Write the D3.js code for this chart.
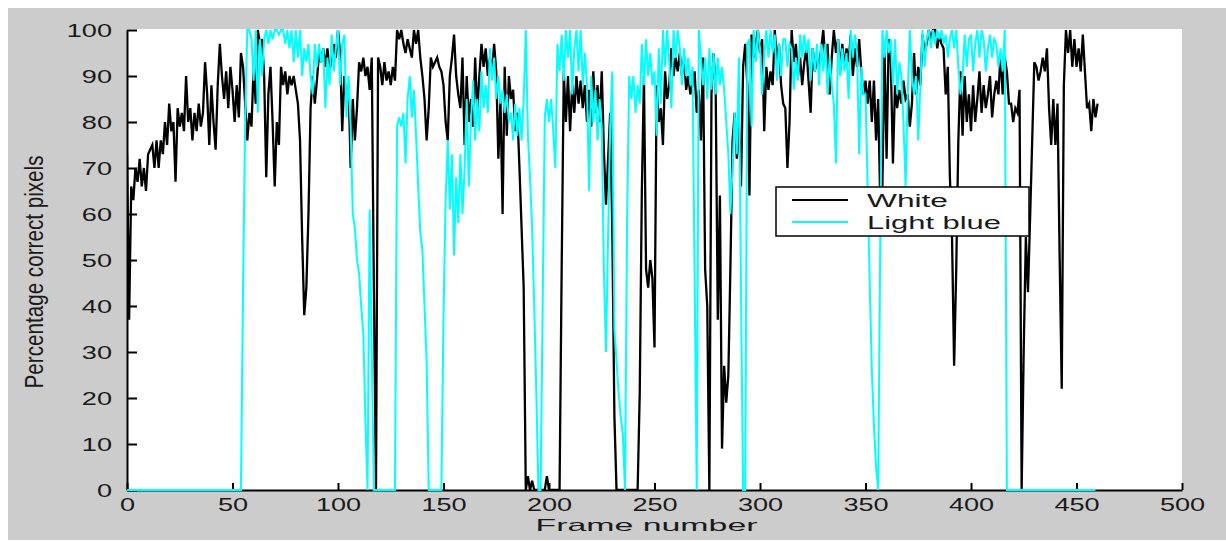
<!DOCTYPE html>
<html>
<head>
<meta charset="utf-8">
<script src="https://cdn.jsdelivr.net/npm/d3@7"></script>
<style>
  html, body { margin: 0; padding: 0; background: #ffffff; }
  svg { display: block; }
  text { font-family: "Liberation Sans", Arial, Helvetica, sans-serif; fill: #1a1a1a; }
</style>
</head>
<body>
<svg id="chart" width="1226" height="541"></svg>
<script>
// Percentage of correctly classified pixels per frame, one value per frame number.
const seriesNames = ["White", "Light blue"];
const seriesColors = ["#000000", "#00ffff"];
const seriesWidths = [2.3, 2];
const xTicks = [0, 50, 100, 150, 200, 250, 300, 350, 400, 450, 500];
const yTicks = [0, 10, 20, 30, 40, 50, 60, 70, 80, 90, 100];
const xLabel = "Frame number";
const yLabel = "Percentage correct pixels";

const whitePct = [
  73,37,66,63,70,67,72,66,70,65,
  73,74,75,70,76,70,76,73,80,75,
  84,78,80,67,83,79,82,78,90,80,
  83,76,82,78,84,79,82,93,86,75,
  88,80,74,88,97,90,85,91,83,92,
  87,80,88,81,95,92,84,76,82,79,
  92,84,100,97,98,90,68,86,92,80,
  66,80,75,92,88,91,86,90,88,90,
  87,84,76,55,38,44,60,83,90,84,
  89,95,93,96,92,96,91,94,97,94,
  100,95,78,90,85,88,70,85,76,83,
  93,91,94,90,92,87,94,44,0,94,
  92,88,93,89,91,88,92,89,100,98,
  100,97,95,98,96,94,100,97,100,94,
  90,85,76,83,94,92,93,94,92,91,
  88,80,76,90,94,99,90,86,83,94,
  75,90,80,85,79,94,82,90,97,92,
  96,90,94,91,97,91,72,85,60,92,
  77,90,85,87,78,82,70,57,44,0,
  3,0,2,0,0,0,0,0,0,3,
  0,0,0,0,0,0,48,91,80,90,
  78,88,82,90,84,89,83,88,80,87,
  79,91,82,88,80,91,74,62,72,82,
  56,16,0,0,0,0,0,0,0,0,
  0,0,0,21,65,90,48,44,50,46,
  31,88,80,83,75,91,85,88,96,90,
  94,91,95,90,94,87,90,86,88,91,
  82,87,76,94,48,40,0,86,95,87,
  37,64,9,27,19,25,49,76,82,72,
  80,66,92,97,88,64,99,94,97,100,
  95,98,78,92,87,91,88,100,93,97,
  88,84,83,70,80,100,93,97,90,94,
  88,93,96,89,82,96,91,94,92,96,
  100,93,97,86,94,100,95,98,91,97,
  92,96,93,99,90,96,92,98,91,86,
  89,84,89,80,89,76,85,62,66,96,
  72,98,93,71,88,83,87,84,89,85,
  86,79,84,95,86,92,88,99,95,97,
  100,98,100,100,96,99,97,96,86,92,
  68,55,27,48,76,91,77,90,80,86,
  78,88,80,85,91,82,88,83,86,90,
  81,86,89,86,95,86,94,91,84,84,
  80,83,82,87,0,31,55,43,59,76,
  93,92,89,91,94,91,96,83,75,85,
  75,84,51,22,88,100,95,100,92,98,
  92,96,91,99,91,83,84,78,85,81,
  84
];

const lightBluePct = [
  0,0,0,0,0,0,0,0,0,0,
  0,0,0,0,0,0,0,0,0,0,
  0,0,0,0,0,0,0,0,0,0,
  0,0,0,0,0,0,0,0,0,0,
  0,0,0,0,0,0,0,0,0,0,
  0,0,0,0,0,44,80,100,100,98,
  89,100,82,98,90,98,100,97,100,98,
  100,100,99,100,100,97,100,96,100,93,
  100,94,100,90,96,93,97,90,86,97,
  92,97,93,96,83,94,88,99,91,96,
  100,88,97,99,81,90,79,60,57,50,
  47,40,34,15,0,61,30,0,0,0,
  0,0,0,0,0,0,0,0,79,81,
  79,82,71,85,90,81,87,77,66,56,
  52,40,28,0,0,0,0,0,0,0,
  38,63,76,61,73,51,68,58,73,60,
  70,85,66,80,89,76,85,78,91,83,
  88,82,96,89,94,85,90,84,87,82,
  86,80,82,76,84,77,83,76,85,100,
  77,68,57,40,21,0,0,40,81,85,
  80,85,78,70,97,91,99,89,100,94,
  100,86,96,100,91,100,88,95,88,65,
  90,80,87,76,85,79,48,30,55,79,
  91,35,28,21,16,12,0,58,90,85,
  90,82,88,84,97,88,98,90,95,88,
  91,77,96,84,100,92,100,93,83,100,
  94,100,96,88,96,90,94,88,92,47,
  0,100,94,88,94,85,96,87,95,86,
  94,88,92,87,80,73,60,70,82,73,
  94,43,0,0,97,98,79,100,93,100,
  96,86,94,100,94,100,95,99,89,97,
  90,98,98,92,97,96,87,94,89,99,
  94,99,95,98,89,96,91,97,88,97,
  91,97,86,94,88,84,71,98,90,96,
  91,95,85,100,94,99,95,73,92,86,
  86,66,45,26,14,5,0,54,100,94,
  100,95,98,88,98,86,93,90,80,66,
  86,100,90,86,90,76,88,100,92,98,
  100,96,100,97,100,98,100,97,99,94,
  98,100,96,100,92,86,90,99,92,98,
  99,91,97,100,94,100,98,91,96,99,
  94,98,97,92,96,91,100,0,0,0,
  0,0,0,0,0,0,0,0,0,0,
  0,0,0,0,0,0,0,0,0,0,
  0,0,0,0,0,0,0,0,0,0,
  0,0,0,0,0,0,0,0,0,0
];

const series = [whitePct, lightBluePct];

// ---- layout ----
const svg = d3.select("#chart");
const plot = { left: 127, right: 1182, top: 30, bottom: 490 };
const textStretch = 1.55;   // wide, low-resolution lettering

const x = d3.scaleLinear().domain([0, 500]).range([plot.left, plot.right]);
const y = d3.scaleLinear().domain([0, 100]).range([plot.bottom, plot.top]);

// figure background and axes area
svg.append("rect").attr("x", 8).attr("y", 8).attr("width", 1218).attr("height", 532).attr("fill", "#cccccc");
svg.append("rect")
  .attr("x", plot.left).attr("y", plot.top - 1)
  .attr("width", plot.right - plot.left).attr("height", plot.bottom - plot.top + 1)
  .attr("fill", "#ffffff");

svg.append("clipPath").attr("id", "plotClip")
  .append("rect")
  .attr("x", plot.left).attr("y", plot.top - 1)
  .attr("width", plot.right - plot.left + 1).attr("height", plot.bottom - plot.top + 2);

// ---- axes ----
const xAxis = d3.axisBottom(x).tickValues(xTicks).tickSizeInner(-7).tickSizeOuter(0).tickPadding(0);
const yAxis = d3.axisLeft(y).tickValues(yTicks).tickSizeInner(-10).tickSizeOuter(0).tickPadding(0);

const gx = svg.append("g").attr("transform", `translate(0,${plot.bottom})`).call(xAxis);
const gy = svg.append("g").attr("transform", `translate(${plot.left},0)`).call(yAxis);

[gx, gy].forEach(g => {
  g.select(".domain").attr("stroke", "#000").attr("stroke-width", 2);
  g.selectAll(".tick line").attr("stroke", "#000").attr("stroke-width", 2);
  g.selectAll(".tick text")
    .attr("font-family", "Liberation Sans, Arial, sans-serif")
    .attr("font-size", 17.5)
    .attr("fill", "#1a1a1a");
});

gx.selectAll(".tick text")
  .attr("y", null).attr("dy", null)
  .attr("text-anchor", "middle")
  .attr("transform", `translate(0,21) scale(${textStretch},1)`);

gy.selectAll(".tick text")
  .attr("x", null).attr("dy", null)
  .attr("text-anchor", "end")
  .attr("transform", `translate(-15,6.5) scale(${textStretch},1)`);

// ---- series lines ----
const line = d3.line()
  .x((d, i) => x(i))
  .y(d => y(d));

const lines = svg.append("g").attr("clip-path", "url(#plotClip)");
series.forEach((values, k) => {
  lines.append("path")
    .datum(values)
    .attr("fill", "none")
    .attr("stroke", seriesColors[k])
    .attr("stroke-width", seriesWidths[k])
    .attr("stroke-linejoin", "miter")
    .attr("d", line);
});

// ---- axis titles ----
svg.append("text")
  .attr("transform", `translate(${(plot.left + plot.right) / 2 - 8},531)`)
  .attr("text-anchor", "middle")
  .attr("font-size", 17)
  .attr("textLength", 222)
  .attr("lengthAdjust", "spacingAndGlyphs")
  .text(xLabel);

svg.append("text")
  .attr("transform", `translate(43,272) rotate(-90) scale(1,${textStretch})`)
  .attr("text-anchor", "middle")
  .attr("font-size", 17)
  .attr("textLength", 233)
  .attr("lengthAdjust", "spacingAndGlyphs")
  .text(yLabel);

// ---- legend ----
const legend = svg.append("g");
legend.append("rect")
  .attr("x", 776).attr("y", 187).attr("width", 253).attr("height", 49)
  .attr("fill", "#ffffff").attr("stroke", "#000").attr("stroke-width", 1.5);

const legendTextWidths = [81, 134];
seriesNames.forEach((name, k) => {
  const ly = 200 + k * 22;
  legend.append("line")
    .attr("x1", 792).attr("x2", 848).attr("y1", ly).attr("y2", ly)
    .attr("stroke", seriesColors[k]).attr("stroke-width", 2);
  legend.append("text")
    .attr("x", 867).attr("y", ly + 6.5)
    .attr("font-size", 18)
    .attr("textLength", legendTextWidths[k])
    .attr("lengthAdjust", "spacingAndGlyphs")
    .text(name);
});
</script>
</body>
</html>
